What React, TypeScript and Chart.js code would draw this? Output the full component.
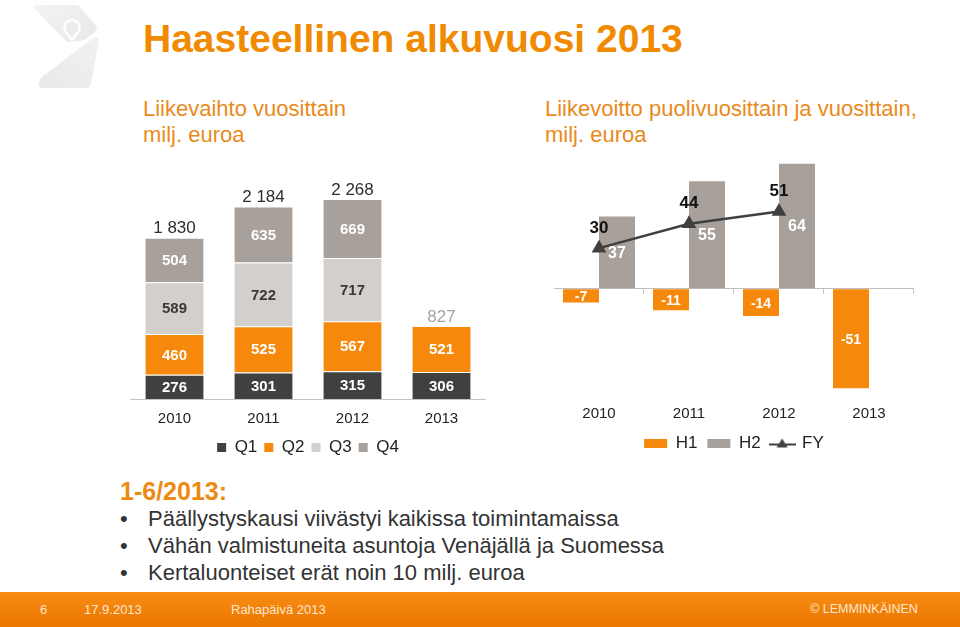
import React, { useEffect, useRef } from "react";
import { Chart, registerables } from "chart.js";
Chart.register(...registerables);

const FONT = '"Liberation Sans", Arial, Helvetica, sans-serif';

// ---- Left chart: revenue by quarter ----
const years = ["2010", "2011", "2012", "2013"];
const q1 = [276, 301, 315, 306];
const q2 = [460, 525, 567, 521];
const q3 = [589, 722, 717, null];
const q4 = [504, 635, 669, null];
const revenueTotals = ["1 830", "2 184", "2 268", "827"];

// ---- Right chart: operating profit ----
const h1 = [-7, -11, -14, -51];
const h2 = [37, 55, 64, null];
const fy = [30, 44, 51, null];

const C_DARK = "#404040";
const C_ORANGE = "#f6890c";
const C_LIGHT = "#d3d0cb";
const C_GREY = "#a8a09a";

function RevenueChart() {
  const ref = useRef<HTMLCanvasElement>(null);
  useEffect(() => {
    const labelsPlugin = {
      id: "stackLabels",
      afterDatasetsDraw(chart: any) {
        const ctx = chart.ctx;
        ctx.save();
        ctx.textAlign = "center";
        ctx.textBaseline = "middle";
        chart.data.datasets.forEach((ds: any, di: number) => {
          const meta = chart.getDatasetMeta(di);
          meta.data.forEach((el: any, i: number) => {
            const v = ds.data[i];
            if (v == null) return;
            ctx.font = `bold 15px ${FONT}`;
            ctx.fillStyle = di === 2 ? "#383838" : "#ffffff";
            ctx.fillText(String(v), el.x, (el.y + el.base) / 2 + 1);
          });
        });
        years.forEach((_, i) => {
          let top = Infinity;
          let xx = 0;
          chart.data.datasets.forEach((ds: any, di: number) => {
            if (ds.data[i] == null) return;
            const el = chart.getDatasetMeta(di).data[i];
            if (el.y < top) {
              top = el.y;
              xx = el.x;
            }
          });
          ctx.font = `17px ${FONT}`;
          ctx.fillStyle = i === 3 ? "#a7a29d" : "#2e2e2e";
          ctx.fillText(revenueTotals[i], xx, top - 9);
        });
        ctx.restore();
      },
    };
    const border = { top: 1, right: 0, bottom: 0, left: 0 };
    const chart = new Chart(ref.current!, {
      type: "bar",
      data: {
        labels: years,
        datasets: [
          { label: "Q1", data: q1, backgroundColor: C_DARK, borderColor: "#fff", borderWidth: border },
          { label: "Q2", data: q2, backgroundColor: C_ORANGE, borderColor: "#fff", borderWidth: border },
          { label: "Q3", data: q3, backgroundColor: C_LIGHT, borderColor: "#fff", borderWidth: border },
          { label: "Q4", data: q4, backgroundColor: C_GREY, borderColor: "#fff", borderWidth: border },
        ] as any,
      },
      options: {
        responsive: false,
        animation: false,
        events: [],
        layout: { padding: 0, autoPadding: false },
        datasets: { bar: { categoryPercentage: 0.655, barPercentage: 1 } },
        scales: {
          x: {
            stacked: true,
            grid: { display: true, drawOnChartArea: false, drawTicks: true, tickLength: 7, color: "rgba(0,0,0,0)" },
            border: { display: true, color: "#c4c4c4", width: 1 },
            ticks: { color: "#222", font: { family: FONT, size: 15 }, padding: 4 },
          },
          y: { stacked: true, display: false, min: 0, max: 2700 },
        },
        plugins: {
          tooltip: { enabled: false },
          legend: {
            position: "bottom",
            labels: {
              boxWidth: 9,
              boxHeight: 9,
              padding: 7,
              color: "#222",
              font: { family: FONT, size: 17 },
              generateLabels(c: any) {
                const items = (Chart.defaults.plugins.legend.labels as any).generateLabels(c);
                return items.map((it: any) => ({ ...it, lineWidth: 0, strokeStyle: "rgba(0,0,0,0)" }));
              },
            },
          },
        },
      } as any,
      plugins: [labelsPlugin],
    });
    return () => chart.destroy();
  }, []);
  return (
    <canvas
      ref={ref}
      width={356}
      height={305}
      style={{ position: "absolute", left: 130, top: 161, width: 356, height: 305 }}
    />
  );
}

function ProfitChart() {
  const ref = useRef<HTMLCanvasElement>(null);
  useEffect(() => {
    const fyIcon = document.createElement("canvas");
    fyIcon.width = 27;
    fyIcon.height = 12;
    const ic = fyIcon.getContext("2d")!;
    ic.strokeStyle = C_DARK;
    ic.lineWidth = 2;
    ic.beginPath();
    ic.moveTo(0, 7);
    ic.lineTo(27, 7);
    ic.stroke();
    ic.fillStyle = C_DARK;
    ic.beginPath();
    ic.moveTo(13.5, 1);
    ic.lineTo(19, 10);
    ic.lineTo(8, 10);
    ic.closePath();
    ic.fill();

    const labelsPlugin = {
      id: "profitLabels",
      beforeDatasetsDraw(chart: any) {
        const ctx = chart.ctx;
        const xs = chart.scales.x;
        const y0 = chart.scales.y.getPixelForValue(0);
        const n = years.length;
        ctx.save();
        ctx.strokeStyle = "#bfbfbf";
        ctx.lineWidth = 1;
        for (let i = 0; i <= n; i++) {
          let x;
          if (i === 0) x = xs.left;
          else if (i === n) x = xs.right;
          else x = (xs.getPixelForValue(i - 1) + xs.getPixelForValue(i)) / 2;
          x = Math.round(x) - 0.5;
          ctx.beginPath();
          ctx.moveTo(x, y0);
          ctx.lineTo(x, y0 + 5);
          ctx.stroke();
        }
        ctx.restore();
      },
      afterDatasetsDraw(chart: any) {
        const ctx = chart.ctx;
        ctx.save();
        ctx.textAlign = "center";
        ctx.textBaseline = "middle";
        chart.data.datasets.forEach((ds: any, di: number) => {
          const meta = chart.getDatasetMeta(di);
          meta.data.forEach((el: any, i: number) => {
            const v = ds.data[i];
            if (v == null) return;
            if (di === 2) {
              ctx.font = `bold 17px ${FONT}`;
              ctx.fillStyle = "#111";
              ctx.fillText(String(v), el.x, el.y - 20);
            } else {
              ctx.font = di === 0 ? `bold 14px ${FONT}` : `bold 16px ${FONT}`;
              ctx.fillStyle = "#ffffff";
              ctx.fillText(String(v), el.x, (el.y + el.base) / 2 + 1);
            }
          });
        });
        ctx.restore();
      },
    };

    const chart = new Chart(ref.current!, {
      type: "bar",
      data: {
        labels: years,
        datasets: [
          { type: "bar", label: "H1", data: h1, backgroundColor: C_ORANGE, order: 2 },
          { type: "bar", label: "H2", data: h2, backgroundColor: C_GREY, order: 2 },
          {
            type: "line",
            label: "FY",
            data: fy,
            yAxisID: "y1",
            borderColor: C_DARK,
            backgroundColor: C_DARK,
            borderWidth: 2.5,
            pointStyle: "triangle",
            pointRadius: 6,
            pointBackgroundColor: C_DARK,
            pointBorderColor: C_DARK,
            order: 0,
          },
        ] as any,
      },
      options: {
        responsive: false,
        animation: false,
        events: [],
        layout: { padding: 0, autoPadding: false },
        datasets: { bar: { categoryPercentage: 0.8, barPercentage: 1 } },
        scales: {
          x: {
            grid: { display: false, drawTicks: false },
            border: { display: false },
            ticks: { color: "#222", font: { family: FONT, size: 15 }, padding: 2.5 },
          },
          y: {
            display: true,
            min: -58,
            max: 70,
            ticks: { display: false, stepSize: 10 },
            border: { display: false },
            grid: {
              drawTicks: false,
              color: (c: any) => (c.tick && c.tick.value === 0 ? "#bfbfbf" : "rgba(0,0,0,0)"),
            },
          },
          y1: { display: false, min: -58, max: 85 },
        },
        plugins: {
          tooltip: { enabled: false },
          legend: {
            position: "bottom",
            labels: {
              usePointStyle: true,
              pointStyleWidth: 23,
              boxHeight: 9,
              padding: 10,
              color: "#222",
              font: { family: FONT, size: 17 },
              sort: (a: any, b: any) => a.datasetIndex - b.datasetIndex,
              generateLabels(c: any) {
                const items = (Chart.defaults.plugins.legend.labels as any).generateLabels(c);
                return items.map((it: any) =>
                  it.datasetIndex === 2
                    ? { ...it, pointStyle: fyIcon, lineWidth: 0 }
                    : { ...it, pointStyle: "rect", lineWidth: 0, strokeStyle: "rgba(0,0,0,0)" }
                );
              },
            },
          },
        },
      } as any,
      plugins: [labelsPlugin],
    });
    return () => chart.destroy();
  }, []);
  return (
    <canvas
      ref={ref}
      width={360}
      height={310}
      style={{ position: "absolute", left: 554, top: 152, width: 360, height: 310 }}
    />
  );
}

function Logo() {
  return (
    <svg width="110" height="100" style={{ position: "absolute", left: 0, top: 0 }}>
      <defs>
        <linearGradient id="lg1" x1="0" y1="0" x2="1" y2="1">
          <stop offset="0" stopColor="#f3f3f3" />
          <stop offset="1" stopColor="#e8e8e8" />
        </linearGradient>
        <linearGradient id="lg2" x1="1" y1="0" x2="0" y2="1">
          <stop offset="0" stopColor="#f1f1f1" />
          <stop offset="1" stopColor="#e9e9e9" />
        </linearGradient>
      </defs>
      <path
        d="M37 5 L76 5 Q79 5 81 8 L96 26 Q98 29 95 32 L86 39 Q83 41 79 41 L70 42 Q66 42 64 39 L35 9 Q33 5 37 5 Z"
        fill="url(#lg1)"
      />
      <path
        d="M72 20 A7.5 7.5 0 0 1 78 32 L72 40 L66 32 A7.5 7.5 0 0 1 72 20 Z"
        fill="none"
        stroke="#ffffff"
        strokeWidth="2.5"
      />
      <path
        d="M93 38 Q98 35 99 40 L91 84 Q90 88 86 88 L43 88 Q38 88 39 84 L40 80 Q41 78 43 76 Z"
        fill="url(#lg2)"
      />
    </svg>
  );
}

export default function App() {
  const orange = "#f08a00";
  const sub = "#ea8a1a";
  const bullets = [
    "Päällystyskausi viivästyi kaikissa toimintamaissa",
    "Vähän valmistuneita asuntoja Venäjällä ja Suomessa",
    "Kertaluonteiset erät noin 10 milj. euroa",
  ];
  return (
    <div
      style={{
        position: "fixed",
        left: 0,
        top: 0,
        width: 960,
        height: 627,
        background: "#fff",
        overflow: "hidden",
        fontFamily: FONT,
      }}
    >
      <Logo />
      <div
        style={{
          position: "absolute",
          left: 143,
          top: 16,
          fontSize: 39,
          lineHeight: "45px",
          fontWeight: "bold",
          color: orange,
          whiteSpace: "nowrap",
        }}
      >
        Haasteellinen alkuvuosi 2013
      </div>
      <div style={{ position: "absolute", left: 143, top: 96, fontSize: 22, lineHeight: "26px", color: sub }}>
        Liikevaihto vuosittain
        <br />
        milj. euroa
      </div>
      <div
        style={{
          position: "absolute",
          left: 545,
          top: 96,
          fontSize: 22,
          lineHeight: "26px",
          color: sub,
          whiteSpace: "nowrap",
        }}
      >
        Liikevoitto puolivuosittain ja vuosittain,
        <br />
        milj. euroa
      </div>

      <RevenueChart />
      <ProfitChart />

      <div
        style={{
          position: "absolute",
          left: 120,
          top: 477,
          fontSize: 25,
          lineHeight: "29px",
          fontWeight: "bold",
          color: "#ee8a12",
        }}
      >
        1-6/2013:
      </div>
      {bullets.map((b, i) => (
        <div
          key={i}
          style={{
            position: "absolute",
            left: 120,
            top: 505 + i * 27,
            fontSize: 22,
            lineHeight: "27px",
            color: "#333",
            whiteSpace: "nowrap",
          }}
        >
          <span style={{ position: "absolute", left: 0 }}>•</span>
          <span style={{ position: "absolute", left: 28 }}>{b}</span>
        </div>
      ))}

      <div
        style={{
          position: "absolute",
          left: 0,
          top: 592,
          width: 960,
          height: 35,
          background: "linear-gradient(#f98c14, #e97600)",
          color: "#ffe7cc",
          fontSize: 13,
        }}
      >
        <span style={{ position: "absolute", left: 40, top: 10 }}>6</span>
        <span style={{ position: "absolute", left: 84, top: 10 }}>17.9.2013</span>
        <span style={{ position: "absolute", left: 231, top: 10 }}>Rahapäivä 2013</span>
        <span style={{ position: "absolute", left: 810, top: 10, fontSize: 12.5 }}>© LEMMINKÄINEN</span>
      </div>
    </div>
  );
}
